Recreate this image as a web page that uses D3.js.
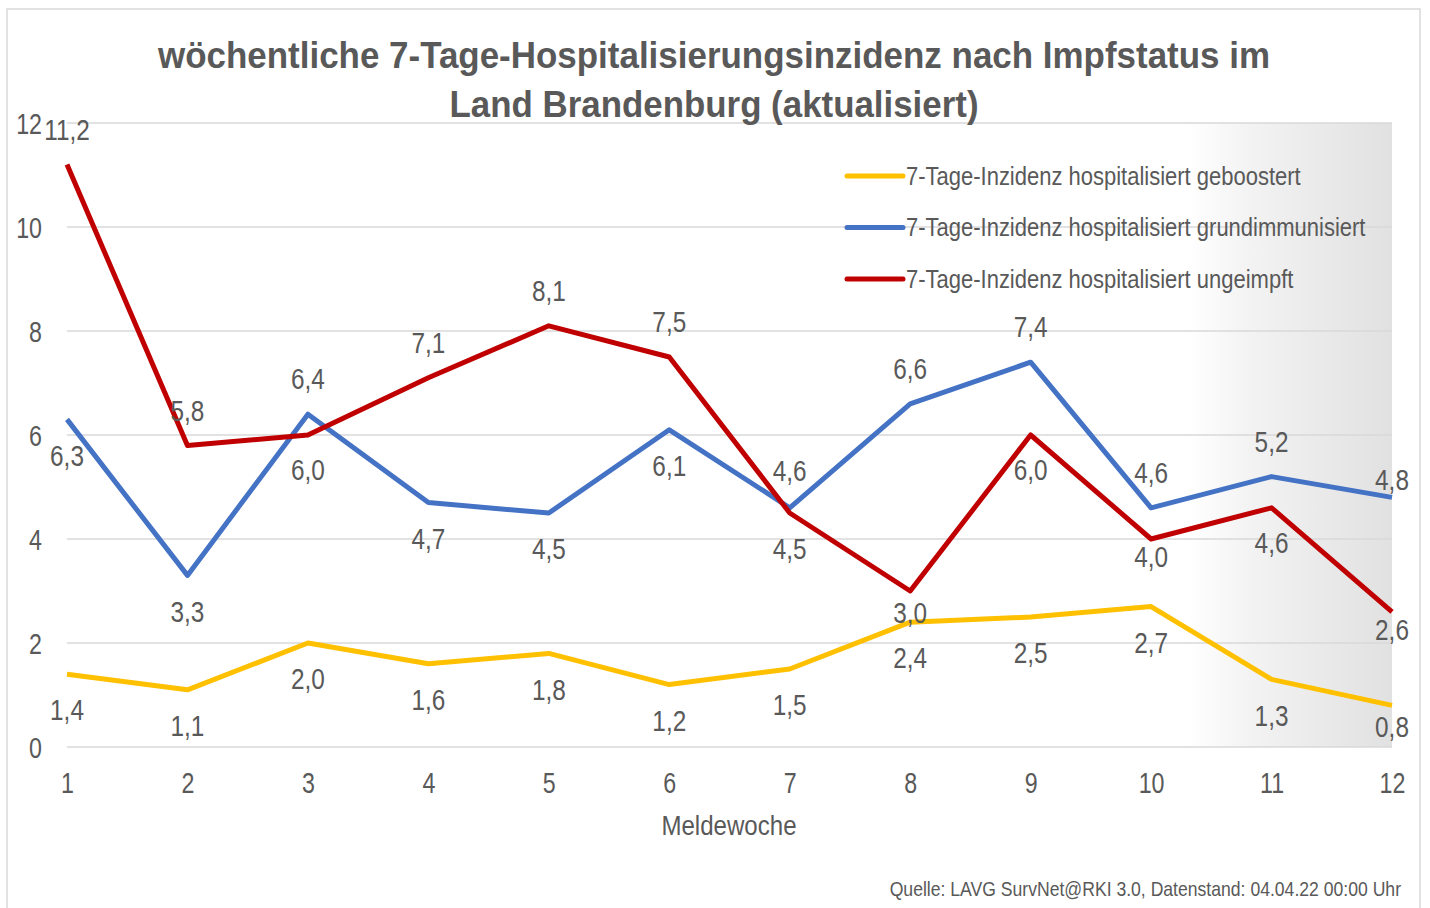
<!DOCTYPE html>
<meta charset="utf-8">
<html lang="de">
  <head>
    <style>
      body { margin: 0; background-color: #fff; }
      svg text { font-family: "Liberation Sans", Arial, sans-serif; fill: #595959; }
      .grid line { stroke: #d9d9d9; stroke-width: 1.5px; }
      .series { fill: none; stroke-width: 5px; stroke-linejoin: round; }
    </style>
  </head>
  <body>
    <script src="https://cdn.jsdelivr.net/npm/d3@7"></script>
    <svg></svg>
    <script>

      var weeks = [1, 2, 3, 4, 5, 6, 7, 8, 9, 10, 11, 12];
      var geboostert = [1.4, 1.1, 2.0, 1.6, 1.8, 1.2, 1.5, 2.4, 2.5, 2.7, 1.3, 0.8];
      var grundimmunisiert = [6.3, 3.3, 6.4, 4.7, 4.5, 6.1, 4.6, 6.6, 7.4, 4.6, 5.2, 4.8];
      var ungeimpft = [11.2, 5.8, 6.0, 7.1, 8.1, 7.5, 4.5, 3.0, 6.0, 4.0, 4.6, 2.6];
      var yTicks = [0, 2, 4, 6, 8, 10, 12];

      // vertical label offset from the point (px, negative = above)
      var offGeboostert = [36, 36, 36, 36, 36, 36, 36, 36, 36, 36, 36, 21];
      var offGrund = [36, 36, -35, 36, 36, 36, -37, -35, -35, -35, -35, -18];
      var offUngeimpft = [-35, -35, 35, -35, -35, -35, 36, 22, 35, 18, 35, 18];

      var series = [
        { name: "7-Tage-Inzidenz hospitalisiert geboostert", values: geboostert, off: offGeboostert, color: "#ffc000" },
        { name: "7-Tage-Inzidenz hospitalisiert grundimmunisiert", values: grundimmunisiert, off: offGrund, color: "#4472c4" },
        { name: "7-Tage-Inzidenz hospitalisiert ungeimpft", values: ungeimpft, off: offUngeimpft, color: "#c00000" }
      ];

      var width = 1430, height = 908;
      var svg = d3.select("svg").attr("width", width).attr("height", height);

      var x = d3.scaleLinear().domain([1, 12]).range([67, 1392]);
      var y = d3.scaleLinear().domain([0, 12]).range([747, 123]);

      // no narrow font installed: squeeze text horizontally instead
      function narrow(sel, px, py, s) {
        sel.attr("transform", function(d, i) {
          var a = typeof px === "function" ? px(d, i) : px,
              b = typeof py === "function" ? py(d, i) : py;
          return "translate(" + a + "," + b + ") scale(" + s + ",1)";
        });
      }

      // outer frame
      svg.append("rect")
        .attr("x", 7).attr("y", 9)
        .attr("width", 1413).attr("height", 920)
        .attr("fill", "none").attr("stroke", "#d9d9d9").attr("stroke-width", 1.5);

      // shaded gradient on the right
      var defs = svg.append("defs");
      var grad = defs.append("linearGradient").attr("id", "shade")
        .attr("x1", "0").attr("x2", "1").attr("y1", "0").attr("y2", "0");
      grad.append("stop").attr("offset", "0").attr("stop-color", "#ffffff");
      grad.append("stop").attr("offset", "0.3").attr("stop-color", "#f3f3f3");
      grad.append("stop").attr("offset", "1").attr("stop-color", "#e1e1e1");

      svg.append("rect")
        .attr("x", 1188).attr("y", y(12))
        .attr("width", x(12) - 1188).attr("height", y(0) - y(12))
        .attr("fill", "url(#shade)");

      // grid
      svg.append("g").attr("class", "grid")
        .selectAll("line").data(yTicks).enter().append("line")
        .attr("x1", x(1)).attr("x2", x(12))
        .attr("y1", function(d) { return y(d); })
        .attr("y2", function(d) { return y(d); });

      // y axis labels
      var yAxis = svg.append("g")
        .attr("transform", "translate(42,0)")
        .call(d3.axisLeft(y).tickValues(yTicks).tickSize(0).tickPadding(0));
      yAxis.select(".domain").remove();
      yAxis.selectAll("text").style("font-size", "29px").attr("fill", "#595959")
        .attr("x", 0).attr("dy", "0.35em").attr("transform", "scale(0.8,1)");

      // x axis labels
      var xAxis = svg.append("g")
        .attr("transform", "translate(0,783)")
        .call(d3.axisBottom(x).tickValues(weeks).tickSize(0).tickPadding(0).tickFormat(d3.format("d")));
      xAxis.select(".domain").remove();
      xAxis.selectAll("text").style("font-size", "29px").attr("fill", "#595959")
        .attr("y", 0).attr("dy", "0.35em").attr("transform", "scale(0.8,1)");

      svg.append("text")
        .attr("dy", "0.35em")
        .attr("text-anchor", "middle")
        .style("font-size", "28px")
        .call(narrow, 729, 825, 0.86)
        .text("Meldewoche");

      // title
      var title = svg.append("text").attr("text-anchor", "middle")
        .style("font-size", "37px").style("font-weight", "bold");
      title.append("tspan").attr("x", 714).attr("y", 68)
        .attr("textLength", 1112).attr("lengthAdjust", "spacingAndGlyphs")
        .text("wöchentliche 7-Tage-Hospitalisierungsinzidenz nach Impfstatus im");
      title.append("tspan").attr("x", 714).attr("y", 117)
        .attr("textLength", 529).attr("lengthAdjust", "spacingAndGlyphs")
        .text("Land Brandenburg (aktualisiert)");

      // lines
      var line = d3.line()
        .x(function(d, i) { return x(weeks[i]); })
        .y(function(d) { return y(d); });

      svg.append("g").selectAll("path").data(series).enter().append("path")
        .attr("class", "series")
        .attr("stroke", function(d) { return d.color; })
        .attr("d", function(d) { return line(d.values); });

      // data labels
      var fmt = function(v) { return d3.format(".1f")(v).replace(".", ","); };
      series.forEach(function(s) {
        svg.append("g").selectAll("text").data(s.values).enter().append("text")
          .call(narrow,
            function(d, i) { return x(weeks[i]); },
            function(d, i) { return y(d) + s.off[i]; }, 0.84)
          .attr("dy", "0.35em")
          .attr("text-anchor", "middle")
          .style("font-size", "29px")
          .attr("fill", "#404040")
          .text(fmt);
      });

      // legend
      var legend = svg.append("g").selectAll("g").data(series).enter().append("g")
        .attr("transform", function(d, i) { return "translate(847," + (176 + i * 51.5) + ")"; });
      legend.append("line")
        .attr("x1", 0).attr("x2", 56)
        .attr("stroke", function(d) { return d.color; })
        .attr("stroke-width", 5).attr("stroke-linecap", "round");
      legend.append("text")
        .attr("dy", "0.35em")
        .style("font-size", "25px")
        .call(narrow, 59, 0, 0.88)
        .text(function(d) { return d.name; });

      // source
      svg.append("text")
        .attr("dy", "0.35em")
        .attr("text-anchor", "end")
        .style("font-size", "20px")
        .attr("fill", "#1a1a1a")
        .call(narrow, 1401, 889, 0.88)
        .text("Quelle: LAVG SurvNet@RKI 3.0, Datenstand: 04.04.22 00:00 Uhr");

    </script>
  </body>
</html>
